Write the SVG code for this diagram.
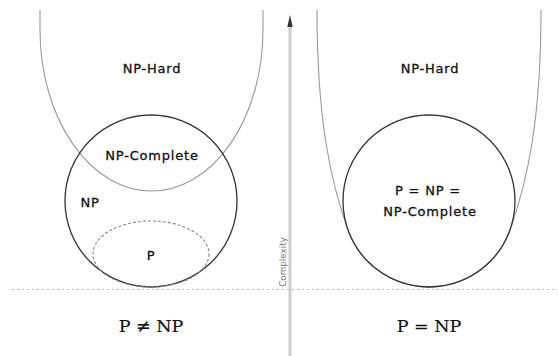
<svg xmlns="http://www.w3.org/2000/svg" width="558" height="356" viewBox="0 0 558 356">
<style>
.hard{fill:none;stroke:#9a9a9a;stroke-width:1.1}
.set{fill:none;stroke:#333;stroke-width:1.3}
.p{fill:none;stroke:#888;stroke-width:1.1;stroke-dasharray:3,2}
.lbl{font-family:"DejaVu Sans",sans-serif;font-size:13px;letter-spacing:0.8px;fill:#111;stroke:#111;stroke-width:0.3;text-anchor:middle}
.cap{font-family:"DejaVu Serif",serif;font-size:17.5px;fill:#111;stroke:#111;stroke-width:0.2;text-anchor:middle}
</style>
<rect width="558" height="356" fill="#fff"/>
<g id="baseline">
<line x1="12" y1="289.5" x2="558" y2="289.5" stroke="#bbb" stroke-width="1" stroke-dasharray="2,3"/>
</g>
<g id="left">
<g id="np-hard-left">
<path class="hard" d="M40 10 L40 30 A111.5 161 0 0 0 263 30 L263 10"/>
<text class="lbl" x="152" y="72.5">NP-Hard</text>
</g>
<g id="np-left">
<circle class="set" cx="151" cy="201" r="86"/>
<text class="lbl" x="90" y="207">NP</text>
</g>
<g id="npc-left">
<text class="lbl" x="152" y="160">NP-Complete</text>
</g>
<g id="p-left">
<ellipse class="p" cx="151" cy="254" rx="58" ry="33"/>
<text class="lbl" x="151" y="260">P</text>
</g>
<text class="cap" x="151" y="331.5">P ≠ NP</text>
</g>
<g id="axis">
<line x1="290" y1="24" x2="290" y2="356" stroke="#cdcdcd" stroke-width="3"/>
<path d="M290 15 L292.7 27 L287.3 27 Z" fill="#333"/>
<text x="286" y="262" transform="rotate(-90 286 262)" font-family="DejaVu Sans, sans-serif" font-size="8.8" fill="#777" text-anchor="middle">Complexity</text>
</g>
<g id="right">
<g id="np-hard-right">
<path class="hard" d="M317 10 C317 120 330.6 181.4 348 230 A86 86 0 0 0 510 230 C527.4 181.4 541 120 541 10"/>
<text class="lbl" x="430" y="72.5">NP-Hard</text>
</g>
<g id="p-np-npc">
<circle class="set" cx="429" cy="201" r="86"/>
<text class="lbl" x="428" y="195">P = NP =</text>
<text class="lbl" x="430" y="215.5">NP-Complete</text>
</g>
<text class="cap" x="429" y="331.5">P = NP</text>
</g>
</svg>
